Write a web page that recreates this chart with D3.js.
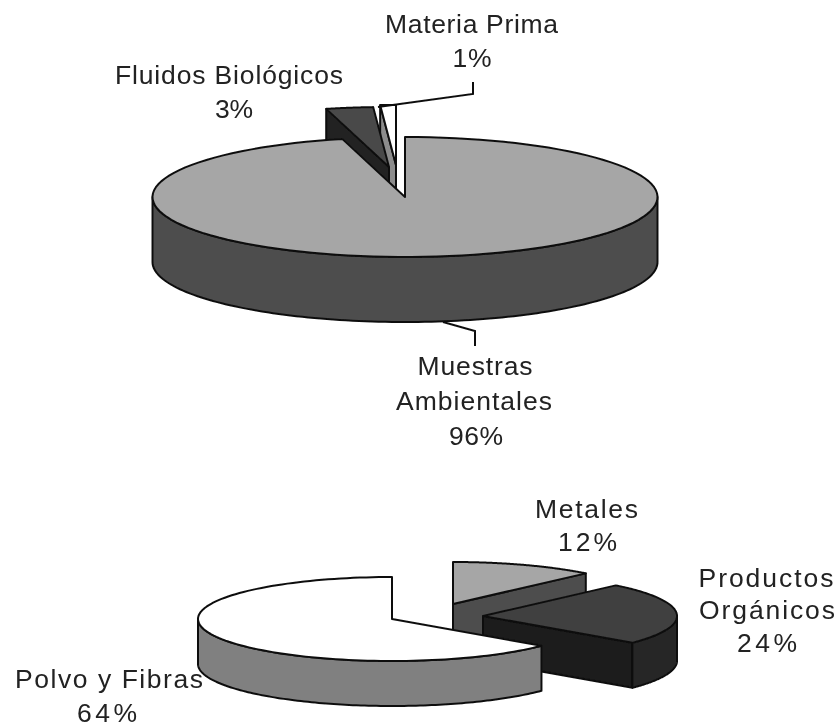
<!DOCTYPE html>
<html><head><meta charset="utf-8">
<script src="https://cdn.jsdelivr.net/npm/d3@7"></script>
<style>html,body{margin:0;padding:0;background:#fff}svg{display:block}text{font-family:"Liberation Sans",Arial,sans-serif;font-size:26.5px;fill:#222;text-anchor:middle}</style>
</head><body><svg id="c" width="840" height="727"></svg>
<script>
// Data
const topCategories = ["Muestras Ambientales", "Fluidos Biológicos", "Materia Prima"];
const topValues = [96, 3, 1];
const bottomCategories = ["Metales", "Productos Orgánicos", "Polvo y Fibras"];
const bottomValues = [12, 24, 64];

// Style / layout
const topFaces = ["#a6a6a6", "#4a4a4a", "#ffffff"];
const topWalls = ["#4d4d4d", "#333333", "#999999"];
const topCuts = ["#4d4d4d", "#242424", "#8c8c8c"];
const bottomFaces = ["#a6a6a6", "#404040", "#ffffff"];
const bottomWalls = ["#4d4d4d", "#262626", "#808080"];
const bottomCuts = ["#4d4d4d", "#1a1a1a", "#808080"];
const topCentres = [[405, 197], [389, 167], [396, 165]];
const bottomCentres = [[453, 604], [483, 616], [392, 619]];

const svg = d3.select("#c");
const defs = svg.append("defs");
defs.append("filter").attr("id", "soft").append("feGaussianBlur").attr("stdDeviation", 0.6);
const root = svg.append("g").attr("filter", "url(#soft)");

function drawPie(values, faces, walls, cuts, centres, rx, ry, depth, order) {
  const arcs = d3.pie().sort(null).startAngle(0).endAngle(2 * Math.PI)(values);
  order.forEach(i => {
    const a = arcs[i], [cx, cy] = centres[i];
    const X = d3.scaleLinear().domain([-1, 1]).range([cx - rx, cx + rx]);
    const Y = d3.scaleLinear().domain([-1, 1]).range([cy + ry, cy - ry]);
    const pt = (t, dz = 0) => [X(Math.sin(t)), Y(Math.cos(t)) + dz];
    const samples = (t0, t1) => d3.range(0, 121).map(k => t0 + (t1 - t0) * k / 120);
    const line = d3.line();
    const g = root.append("g").attr("stroke", "#111").attr("stroke-width", 2).attr("stroke-linejoin", "round");
    const apex = [X(0), Y(0)];
    [[a.startAngle, Math.sin(a.startAngle) < -1e-6], [a.endAngle, Math.sin(a.endAngle) > 1e-6]].forEach(([t, vis]) => {
      if (!vis) return;
      const p = pt(t);
      g.append("path").attr("fill", cuts[i]).attr("d", line([apex, p, [p[0], p[1] + depth], [apex[0], apex[1] + depth]]) + "Z");
    });
    const w0 = Math.max(a.startAngle, Math.PI / 2), w1 = Math.min(a.endAngle, 3 * Math.PI / 2);
    if (w1 > w0) {
      const s = samples(w0, w1);
      const pts = s.map(t => pt(t)).concat(s.slice().reverse().map(t => pt(t, depth)));
      g.append("path").attr("fill", walls[i]).attr("d", line(pts) + "Z");
    }
    const face = [apex].concat(samples(a.startAngle, a.endAngle).map(t => pt(t)));
    g.append("path").attr("fill", faces[i]).attr("d", line(face) + "Z");
  });
}

drawPie(topValues, topFaces, topWalls, topCuts, topCentres, 252.5, 60, 65, [2, 1, 0]);
drawPie(bottomValues, bottomFaces, bottomWalls, bottomCuts, bottomCentres, 194, 42, 45, [0, 1, 2]);

// Leader lines
const leaderA = [[378, 107], [473, 94], [473, 82]];
const leaderB = [[443, 322], [475, 331], [475, 346]];
[leaderA, leaderB].forEach(l => root.append("path").attr("fill", "none").attr("stroke", "#111").attr("stroke-width", 2).attr("d", d3.line()(l)));

// Labels: text, centre x, baseline y, width
const labels = [
  ["Materia Prima", 471.5, 33, 173], ["1%", 472, 67, 39],
  ["Fluidos Biológicos", 229, 84, 228], ["3%", 234, 118, 38],
  ["Muestras", 475, 375, 115], ["Ambientales", 474, 410, 156], ["96%", 476, 445, 54],
  ["Metales", 586.5, 518, 103], ["12%", 587.5, 551, 59],
  ["Productos", 766, 587, 135], ["Orgánicos", 767, 619, 136], ["24%", 767, 652, 60],
  ["Polvo y Fibras", 109, 688, 188], ["64%", 107, 722, 60]
];
root.selectAll("text").data(labels).join("text")
  .attr("x", d => d[1]).attr("y", d => d[2])
  .attr("textLength", d => d[3]).attr("lengthAdjust", "spacing")
  .text(d => d[0]);
</script></body></html>
